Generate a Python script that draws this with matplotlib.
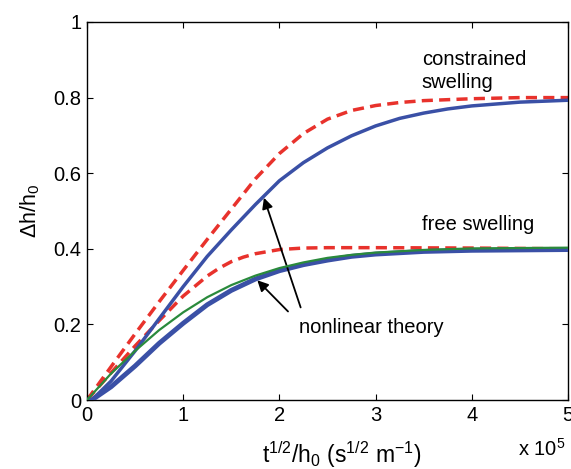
import matplotlib
matplotlib.use("Agg")
import matplotlib.pyplot as plt

plt.rcParams["font.family"] = ["Liberation Sans", "DejaVu Sans"]
plt.rcParams["mathtext.fontset"] = "custom"
plt.rcParams["mathtext.rm"] = "Liberation Sans"
plt.rcParams["mathtext.it"] = "Liberation Sans"
plt.rcParams["mathtext.default"] = "regular"

# x in units of 1e5 s^1/2 m^-1
x_red_con = [0, 0.25, 0.5, 0.75, 1.0, 1.25, 1.5, 1.75, 2.0, 2.25, 2.5, 2.75, 3.0,
             3.25, 3.5, 4.0, 4.5, 5.0]
y_red_con = [0, 0.088, 0.175, 0.26, 0.343, 0.425, 0.505, 0.585, 0.652, 0.705, 0.743,
             0.766, 0.779, 0.787, 0.792, 0.797, 0.80, 0.80]

x_blue_con = [0, 0.05, 0.25, 0.5, 0.75, 1.0, 1.25, 1.5, 1.75, 2.0, 2.25, 2.5, 2.75,
              3.0, 3.25, 3.5, 3.75, 4.0, 4.5, 5.0]
y_blue_con = [0, 0, 0.05, 0.13, 0.215, 0.30, 0.38, 0.45, 0.517, 0.58, 0.628, 0.667,
              0.699, 0.725, 0.745, 0.759, 0.77, 0.778, 0.788, 0.793]

x_red_free = [0, 0.25, 0.5, 0.75, 1.0, 1.25, 1.375, 1.5, 1.625, 1.75, 2.0, 2.25, 2.5,
              3.0, 4.0, 5.0]
y_red_free = [0, 0.072, 0.143, 0.21, 0.275, 0.328, 0.349, 0.366, 0.378, 0.387, 0.398,
              0.402, 0.403, 0.403, 0.402, 0.40]

x_green = [0, 0.25, 0.5, 0.75, 1.0, 1.25, 1.5, 1.75, 2.0, 2.25, 2.5, 2.75, 3.0, 3.5,
           4.0, 5.0]
y_green = [0, 0.07, 0.13, 0.185, 0.232, 0.272, 0.304, 0.329, 0.349, 0.364, 0.376,
           0.384, 0.39, 0.397, 0.401, 0.403]

x_blue_free = [0, 0.05, 0.25, 0.5, 0.75, 1.0, 1.25, 1.5, 1.75, 2.0, 2.25, 2.5, 2.75,
               3.0, 3.5, 4.0, 5.0]
y_blue_free = [0, 0, 0.035, 0.09, 0.15, 0.203, 0.252, 0.29, 0.32, 0.342, 0.358, 0.37,
               0.38, 0.386, 0.393, 0.396, 0.398]

xticks = [0, 1, 2, 3, 4, 5]
yticks = [0, 0.2, 0.4, 0.6, 0.8, 1]
ytick_labels = ["0", "0.2", "0.4", "0.6", "0.8", "1"]

RED = "#e8322c"
BLUE = "#3a50a6"
GREEN = "#2a8a3c"

fig = plt.figure(figsize=(5.71, 4.69), dpi=100)
ax = fig.add_axes([0.1524, 0.1471, 0.8423, 0.806])

dash = (0, (3.2, 1.8))
ax.plot(x_red_con, y_red_con, color=RED, lw=2.5, ls=dash, zorder=2)
ax.plot(x_blue_con, y_blue_con, color=BLUE, lw=2.5, zorder=3)
ax.plot(x_red_free, y_red_free, color=RED, lw=2.5, ls=dash, zorder=2)
ax.plot(x_blue_free, y_blue_free, color=BLUE, lw=3.5, zorder=3)
ax.plot(x_green, y_green, color=GREEN, lw=1.6, zorder=4)

ax.set_xlim(0, 5)
ax.set_ylim(0, 1)
ax.set_xticks(xticks)
ax.set_xticklabels([str(t) for t in xticks])
ax.set_yticks(yticks)
ax.set_yticklabels(ytick_labels)
ax.tick_params(direction="in", top=True, right=True, length=4, width=0.8,
               labelsize=14.5, pad=4)
for sp in ax.spines.values():
    sp.set_linewidth(1.0)

ax.set_ylabel(r"$\Delta$h/h$_0$", fontsize=15.5, labelpad=8)
ax.set_xlabel(r"t$^{1/2}$/h$_0$ (s$^{1/2}$ m$^{-1}$)", fontsize=16.5)
ax.xaxis.set_label_coords(0.53, -0.105)
ax.text(0.995, -0.13, r"x 10$^5$", transform=ax.transAxes, ha="right",
        va="center", fontsize=14.5)

ax.text(3.48, 0.902, "constrained", fontsize=14.5, va="center")
ax.text(3.48, 0.839, "swelling", fontsize=14.5, va="center")
ax.text(3.48, 0.463, "free swelling", fontsize=14.5, va="center")
ax.text(2.2, 0.193, "nonlinear theory", fontsize=14.5, va="center")

arrow = dict(arrowstyle="-|>", color="black", lw=1.3, mutation_scale=16)
ax.annotate("", xy=(1.83, 0.542), xytext=(2.23, 0.238), arrowprops=arrow)
ax.annotate("", xy=(1.75, 0.322), xytext=(2.11, 0.229), arrowprops=arrow)

fig.savefig("out.png", dpi=100)
